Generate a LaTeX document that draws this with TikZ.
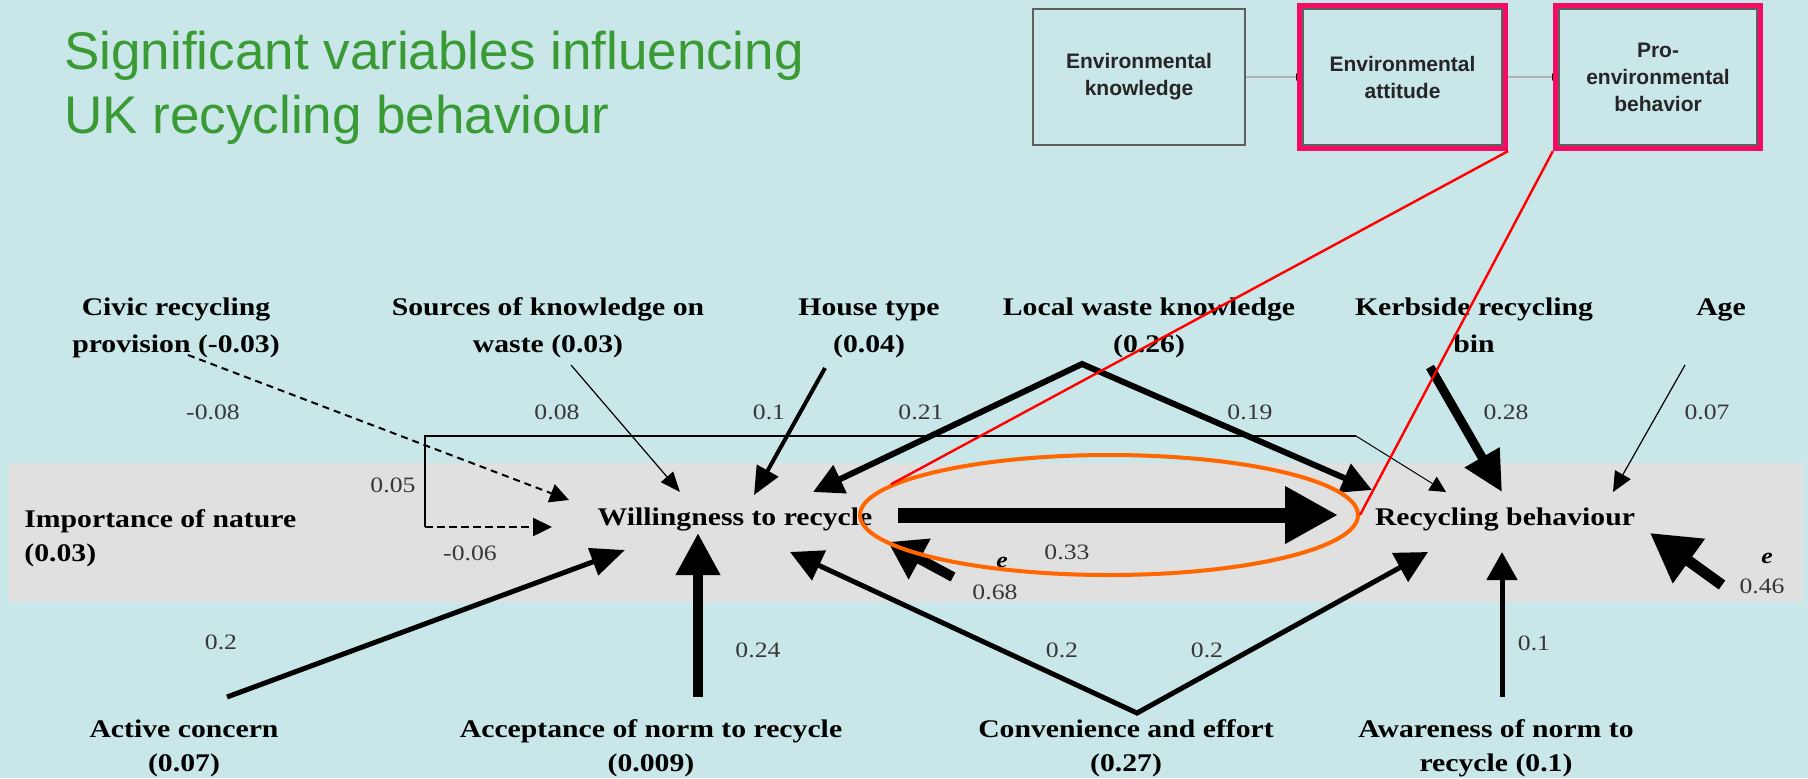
\documentclass[tikz,border=0pt]{standalone}
\usepackage{fontspec}
\usetikzlibrary{arrows.meta,shapes.geometric,fit}
\newfontfamily\timesw[FakeStretch=1.17]{Liberation Serif}
\newfontfamily\arialf{Liberation Sans}
\definecolor{bgblue}{RGB}{201,230,232}
\definecolor{bandgrey}{RGB}{224,224,224}
\definecolor{titlegreen}{RGB}{58,155,53}
\definecolor{framepink}{RGB}{245,10,100}
\definecolor{ringorange}{RGB}{255,102,0}
\definecolor{coefgrey}{RGB}{55,55,55}
\definecolor{boxgrey}{RGB}{95,95,95}

\tikzset{
  headline/.style={font=\arialf\fontsize{26.5}{32}\selectfont, text=titlegreen, align=left, inner sep=0pt},
  var/.style={font=\timesw\bfseries\fontsize{12.7}{17}\selectfont, align=center, inner sep=0pt},
  vartop/.style={var, font=\timesw\bfseries\fontsize{12.7}{18.5}\selectfont},
  coef/.style={font=\timesw\fontsize{11}{13}\selectfont, text=coefgrey, inner sep=0pt},
  errlabel/.style={font=\timesw\bfseries\itshape\fontsize{11}{13}\selectfont, inner sep=0pt},
  envbox/.style={draw=boxgrey, line width=1pt, fill=bgblue, minimum width=106pt, minimum height=68pt,
    align=center, font=\arialf\bfseries\fontsize{10.5}{13.5}\selectfont, text=black!85, inner sep=0pt},
  boxlink/.style={draw=gray!60, line width=0.8pt, -{Triangle[length=3pt,width=3.5pt,color=black]}},
  pinkframe/.style={draw=framepink, line width=2.5pt, inner sep=1.3pt},
  redline/.style={draw=red, line width=1.2pt},
  infl/.style n args={3}{line width=#1pt, -{Triangle[length=#2pt,width=#3pt]}},
  both/.style n args={3}{line width=#1pt, {Triangle[length=#2pt,width=#3pt]}-{Triangle[length=#2pt,width=#3pt]}}
}

\begin{document}
\begin{tikzpicture}[x=0.5pt, y=-0.5pt]
  % Canvas and grey band
  \fill[bgblue] (0,0) rectangle (1808,778);
  \useasboundingbox (0,0) rectangle (1808,778);
  \fill[bandgrey] (8,463) rectangle (1803,602);

  % Title (base = last line)
  \node[headline, anchor=base west] (title) at (64,133) {Significant variables influencing\\UK recycling behaviour};

  % Model boxes
  \node[envbox] (know) at (1139,77) {Environmental\\knowledge};
  \node[envbox, minimum width=99.5pt] (att) at (1402.5,77) {Environmental\\attitude};
  \node[envbox, minimum width=99pt] (pro) at (1658,77) {Pro-\\environmental\\behavior};
  \draw[boxlink] (know) -- (att);
  \draw[boxlink] (att) -- (pro);
  \node[pinkframe, fit=(att)] (attframe) {};
  \node[pinkframe, fit=(pro)] (proframe) {};

  % Variables
  \node[vartop, anchor=base] (civic) at (176,352) {Civic recycling\\provision (-0.03)};
  \node[vartop, anchor=base] (src) at (548,352) {Sources of knowledge on\\waste (0.03)};
  \node[vartop, anchor=base] (house) at (869,352) {House type\\(0.04)};
  \node[vartop, anchor=base] (local) at (1149,352) {Local waste knowledge\\(0.26)};
  \node[vartop, anchor=base] (kerb) at (1474,352) {Kerbside recycling\\bin};
  \node[vartop, anchor=base] (age) at (1721,315) {Age};
  \node[var, align=left, anchor=base west] (nature) at (24,561) {Importance of nature\\(0.03)};
  \node[var, anchor=base] (will) at (735,525) {Willingness to recycle};
  \node[var, anchor=base] (rec) at (1505,525) {Recycling behaviour};
  \node[var, anchor=base] (active) at (184,771) {Active concern\\(0.07)};
  \node[var, anchor=base] (accept) at (651,771) {Acceptance of norm to recycle\\(0.009)};
  \node[var, anchor=base] (conv) at (1126,771) {Convenience and effort\\(0.27)};
  \node[var, anchor=base] (aware) at (1496,771) {Awareness of norm to\\recycle (0.1)};

  % Arrow ends
  \foreach \n/\x/\y in {civic-out/188/355, will-in1/569/500, src-out/571/365, will-in2/680/492,
      house-out/825/368, will-in3/754/495, local-out/1082/364, will-in4/813/492, rec-in1/1372/490,
      kerb-out/1430/367, rec-in3/1502/492, age-out/1685/365, rec-in4/1613/492,
      nat-low/425/527, nat-high/425/436, nat-bend/1356/436, rec-in2/1446/492, will-in0/552/527,
      will-out/898/515, rec-in0/1338/515, e-will/953/577, will-in5/888/542,
      active-out/227/697, will-in6/625/550, accept-out/698/697, will-in7/698/533,
      conv-out/1137/713, will-in8/790/552, rec-in5/1428/552, aware-out/1502/697, rec-in6/1502/552,
      e-rec/1722/585, rec-in7/1650/533}
    \coordinate (\n) at (\x,\y);

  % Paths from above
  \draw[infl={1}{9.5}{9.5}, dash pattern=on 3.5pt off 2.5pt] (civic-out) -- (will-in1);
  \draw[infl={0.6}{10}{8}] (src-out) -- (will-in2);
  \draw[infl={2}{14}{12}] (house-out) -- (will-in3);
  \draw[both={3}{15}{15}] (will-in4) -- (local-out) -- (rec-in1);
  \draw[infl={4.5}{20}{19}] (kerb-out) -- (rec-in3);
  \draw[infl={0.6}{10}{9}] (age-out) -- (rec-in4);

  % Importance of nature
  \draw[line width=1pt] (nat-low) -- (nat-high) -- (nat-bend);
  \draw[infl={0.5}{8}{8}] (nat-bend) -- (rec-in2);
  \draw[infl={1.2}{9.5}{9}, dash pattern=on 4pt off 2pt] (nat-low) -- (will-in0);

  % Main path and errors
  \draw[infl={7.5}{26.5}{27}] (will-out) -- (rec-in0);
  \draw[infl={5}{18}{22}] (e-will) -- (will-in5);
  \draw[infl={5.5}{24}{26}] (e-rec) -- (rec-in7);

  % Paths from below
  \draw[infl={2.5}{17}{14}] (active-out) -- (will-in6);
  \draw[infl={5}{21}{21}] (accept-out) -- (will-in7);
  \draw[both={2.5}{16}{16}] (will-in8) -- (conv-out) -- (rec-in5);
  \draw[infl={2.5}{14}{15}] (aware-out) -- (rec-in6);

  % Coefficients
  \node[coef] (k1) at (213,412) {-0.08};
  \node[coef] (k2) at (557,412) {0.08};
  \node[coef] (k3) at (769,412) {0.1};
  \node[coef] (k4) at (921,412) {0.21};
  \node[coef] (k5) at (1250,412) {0.19};
  \node[coef] (k6) at (1506,412) {0.28};
  \node[coef] (k7) at (1707,412) {0.07};
  \node[coef] (k8) at (393,485) {0.05};
  \node[coef] (k9) at (470,553) {-0.06};
  \node[coef] (k10) at (1067,552) {0.33};
  \node[errlabel] (ew) at (1002,562) {e};
  \node[coef] (k11) at (995,592) {0.68};
  \node[errlabel] (er) at (1767,558) {e};
  \node[coef] (k12) at (1762,586) {0.46};
  \node[coef] (k13) at (221,642) {0.2};
  \node[coef] (k14) at (758,650) {0.24};
  \node[coef] (k15) at (1062,650) {0.2};
  \node[coef] (k16) at (1207,650) {0.2};
  \node[coef] (k17) at (1534,643) {0.1};

  % Highlight
  \node[draw=ringorange, line width=2pt, ellipse, minimum width=249pt, minimum height=60pt, inner sep=0pt] (ring) at (1109,515) {};
  \draw[redline] (attframe.south east) -- (ring.172);
  \draw[redline] (proframe.south west) -- (ring.east);
\end{tikzpicture}
\end{document}
